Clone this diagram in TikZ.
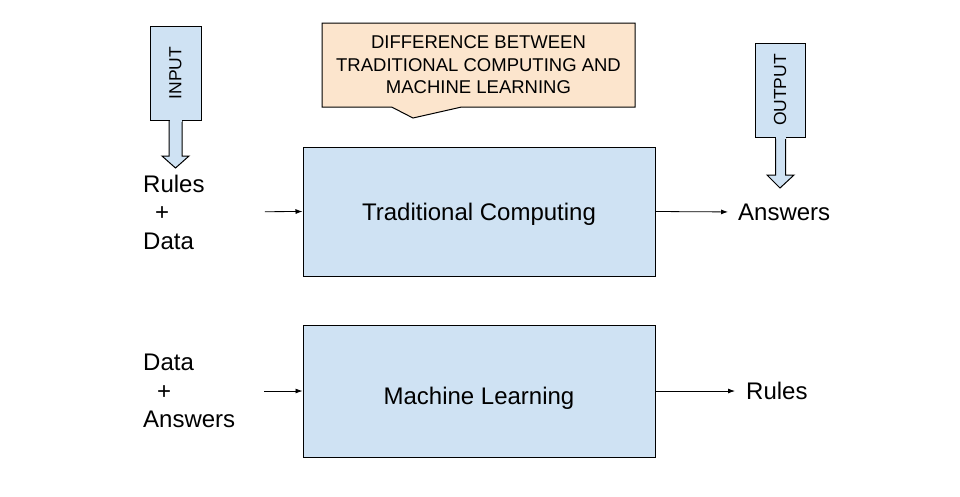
\documentclass[tikz,border=0pt]{standalone}
\usepackage{fontspec}
\setmainfont{Liberation Sans}
\usetikzlibrary{shapes.callouts, arrows.meta, positioning}
\definecolor{boxblue}{HTML}{CFE2F3}
\definecolor{notepeach}{HTML}{FCE5CD}
\tikzset{
    process/.style={
        rectangle,
        draw,
        fill=boxblue,
        line width=1pt,
        minimum width=352pt,
        text depth=5pt,
        font=\fontsize{24}{28}\selectfont
    },
    heading/.style={
        rectangle callout,
        draw,
        fill=notepeach,
        line width=1pt,
        minimum width=313pt,
        minimum height=84pt,
        align=center,
        callout pointer width=70pt,
        font=\fontsize{18.5}{22.5}\selectfont
    },
    tagbox/.style={
        rectangle,
        draw,
        fill=boxblue,
        line width=1pt,
        inner sep=0pt,
        minimum height=94pt,
        font=\fontsize{17.5}{20}\selectfont
    },
    term/.style={
        inner sep=0pt,
        align=left,
        font=\fontsize{24}{28.5}\selectfont
    },
    flow/.style={
        -{Latex[length=7pt,width=5pt]},
        line width=0.8pt
    }
}

\begin{document}
\begin{tikzpicture}[x=1pt, y=-1pt]
    \useasboundingbox (0,0) rectangle (960,496);

    % Heading callout
    \node (note) [heading, callout absolute pointer={(413,118)}] at (478.5,65) {DIFFERENCE BETWEEN\\TRADITIONAL COMPUTING AND\\MACHINE LEARNING};

    % Input tag with down arrow
    \draw [line width=1pt, fill=boxblue] (169,119) -- ++(0,37) -- ++(-7,0) -- ++(13.5,12) -- ++(13.5,-12) -- ++(-7,0) -- ++(0,-37);
    \node (input) [tagbox, minimum width=51pt] at (175.5,73) {\rotatebox{90}{INPUT}};
    \fill [boxblue] (169.5,118) rectangle (181.5,121.5);

    % Output tag with down arrow
    \draw [line width=1pt, fill=boxblue] (775.5,136) -- ++(0,39) -- ++(-8.5,0) -- ++(13,13) -- ++(14,-13) -- ++(-8.5,0) -- ++(0,-39);
    \node (output) [tagbox, minimum width=50pt] at (780,90) {\rotatebox{90}{OUTPUT}};
    \fill [boxblue] (776,135) rectangle (786,138.5);

    % Process boxes
    \node (tc) [process, minimum height=129pt, text height=22pt] at (479,211.5) {Traditional Computing};
    \node (ml) [process, minimum height=132pt, text height=31pt] at (479,391) {Machine Learning};

    % Inputs and outputs
    \node (rd) [term, anchor=west] at (143,212) {Rules\\\hspace*{12pt}+\\Data};
    \node (ans) [term, anchor=west] at (738,212) {Answers};
    \node (da) [term, anchor=west] at (143,391) {Data\\\hspace*{14pt}+\\Answers};
    \node (rl) [term, anchor=west] at (746,391) {Rules};

    % Arrows
    \draw [flow, shorten <=60pt] (rd.east) -- (tc.west);
    \draw [flow, shorten >=10pt] (tc.east) -- (ans.west);
    \draw [flow, shorten <=29pt] (da.east) -- (ml.west);
    \draw [flow, shorten >=11pt] (ml.east) -- (rl.west);

\end{tikzpicture}
\end{document}
